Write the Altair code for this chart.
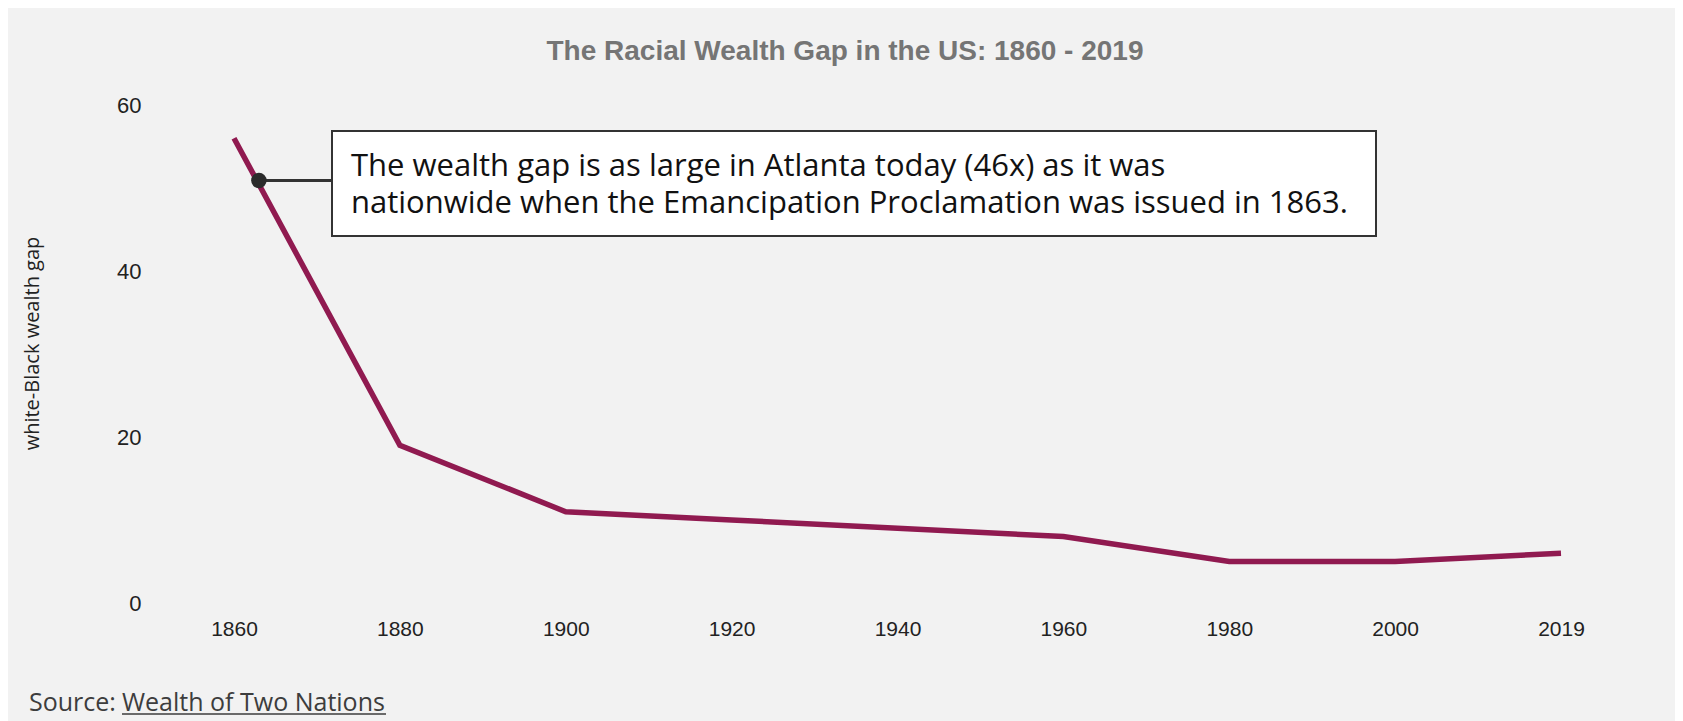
import json
import altair as alt
import pandas as pd

# ---- data ----
years = ["1860", "1880", "1900", "1920", "1940", "1960", "1980", "2000", "2019"]
gap = [56, 19, 11, 10, 9, 8, 5, 5, 6]

ann_year = 1863          # Emancipation Proclamation
ann_gap = 50.9           # value of the line at that point
ann_lines = [
    "The wealth gap is as large in Atlanta today (46x) as it was",
    "nationwide when the Emancipation Proclamation was issued in 1863.",
]
title_text = "The Racial Wealth Gap in the US: 1860 - 2019"
y_title = "white-Black wealth gap"
source_prefix = "Source:"
source_link = "Wealth of Two Nations"
y_ticks = [0, 20, 40, 60]

# ---- tables ----
df = pd.DataFrame({"idx": list(range(len(years))), "year": years, "gap": gap})
# x is the position of the year in the equally spaced axis (1860..1880 step is one slot)
ann_df = pd.DataFrame({"idx": [(ann_year - 1860) / 20], "gap": [ann_gap]})

label_expr = json.dumps(years) + "[datum.value]"

PLOT_W = 1327
PLOT_H = 498
LINE_COLOR = "#901a50"
SRC_COLOR = "#3d3d3d"

x_enc = alt.X(
    "idx:Q",
    scale=alt.Scale(domain=[0, len(years) - 1], nice=False, zero=False),
    axis=alt.Axis(
        values=list(range(len(years))),
        labelExpr=label_expr,
        labelFlush=False,
        labelOverlap=False,
        title=None,
        grid=False,
        domain=False,
        ticks=False,
        labelPadding=26,
        labelBaseline="middle",
        labelFont="Liberation Sans",
        labelFontSize=21,
        labelColor="#222222",
    ),
)
y_enc = alt.Y(
    "gap:Q",
    scale=alt.Scale(domain=[0, 60], nice=False),
    axis=alt.Axis(
        values=y_ticks,
        title=y_title,
        grid=False,
        domain=False,
        ticks=False,
        labelFlush=False,
        labelPadding=93,
        labelFont="Liberation Sans",
        labelFontSize=22,
        labelColor="#222222",
        titleFont="Open Sans",
        titleFontSize=20,
        titleFontWeight="normal",
        titleColor="#222222",
        titleAngle=270,
        titleAlign="center",
        titleBaseline="middle",
        titleX=-202,
        titleY=238,
    ),
)

line = alt.Chart(df).mark_line(color=LINE_COLOR, strokeWidth=5.5).encode(x=x_enc, y=y_enc)

connector = alt.Chart(ann_df).mark_rule(color="#333333", strokeWidth=3).encode(
    x="idx:Q", x2=alt.value(98), y="gap:Q"
)

box = alt.Chart(ann_df).mark_rect(
    fill="white", stroke="#333333", strokeWidth=2
).encode(x=alt.value(98), x2=alt.value(1142), y=alt.value(26), y2=alt.value(131))

box_text = alt.Chart(ann_df).mark_text(
    align="left", baseline="alphabetic", font="Open Sans", fontSize=31,
    lineHeight=37, color="#111111"
).encode(x=alt.value(117), y=alt.value(71), text=alt.value(ann_lines))

dot = alt.Chart(ann_df).mark_point(filled=True, size=240, color="#2b2b2b", opacity=1).encode(
    x="idx:Q", y="gap:Q"
)

title = alt.Chart(ann_df).mark_text(
    align="center", baseline="middle", font="Liberation Sans", fontSize=28,
    fontWeight="bold", color="#757575"
).encode(x=alt.value(611), y=alt.value(-53), text=alt.value(title_text))

src1 = alt.Chart(ann_df).mark_text(
    align="left", baseline="alphabetic", font="Open Sans", fontSize=25, color=SRC_COLOR
).encode(x=alt.value(-205), y=alt.value(606), text=alt.value(source_prefix))

src2 = alt.Chart(ann_df).mark_text(
    align="left", baseline="alphabetic", font="Open Sans", fontSize=25, color=SRC_COLOR
).encode(x=alt.value(-112), y=alt.value(606), text=alt.value(source_link))

underline = alt.Chart(ann_df).mark_rule(color=SRC_COLOR, strokeWidth=1.5).encode(
    x=alt.value(-112), x2=alt.value(152), y=alt.value(609)
)

chart = (
    alt.layer(line, connector, box, box_text, dot, title, src1, src2, underline)
    .properties(
        width=PLOT_W,
        height=PLOT_H,
        background="#f2f2f2",
        padding={"left": 226, "top": 97, "right": 114, "bottom": 118},
        autosize=alt.AutoSizeParams(type="none"),
    )
    .configure_view(strokeOpacity=0)
)

chart.save("out.html", embed_options={"renderer": "svg", "actions": False})
